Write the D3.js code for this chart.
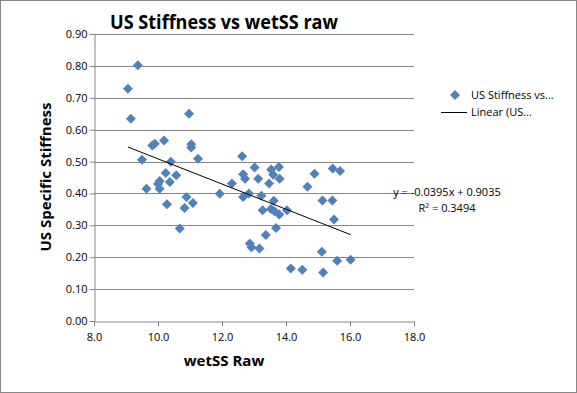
<!DOCTYPE html>
<html>
<head>
<meta charset="utf-8">
<script src="https://cdn.jsdelivr.net/npm/d3@7"></script>
<style>
  body { margin: 0; background: #fff; }
  text { font-family: "Open Sans", "Liberation Sans", sans-serif; }
</style>
</head>
<body>
<svg id="chart"></svg>
<script>
var width = 577,
  height = 393;

// readings from the picture: wetSS raw (x) and US specific stiffness (y)
var wetSS = [9.06, 9.37, 9.15, 10.97, 9.82, 9.90, 10.19, 11.04, 11.04, 9.50,
  10.40, 11.25, 10.24, 10.57, 10.05, 10.00, 10.37, 9.64, 10.05, 10.89,
  11.09, 10.83, 10.28, 10.68, 11.93, 12.31, 12.63, 13.02, 12.66, 12.72,
  13.13, 13.54, 13.78, 13.60, 13.80, 13.47, 12.66, 12.84, 13.23, 13.27,
  13.53, 13.62, 13.64, 13.79, 14.03, 13.69, 13.37, 12.87, 12.92, 13.17,
  14.89, 14.67, 15.46, 15.69, 15.14, 15.45, 15.50, 15.12, 15.60, 16.02,
  14.15, 14.51, 15.16];
var stiffness = [0.728, 0.802, 0.634, 0.650, 0.550, 0.556, 0.566, 0.554, 0.544, 0.506,
  0.499, 0.509, 0.464, 0.457, 0.439, 0.430, 0.436, 0.415, 0.415, 0.389,
  0.370, 0.354, 0.366, 0.290, 0.399, 0.431, 0.517, 0.481, 0.460, 0.446,
  0.446, 0.475, 0.483, 0.459, 0.446, 0.431, 0.389, 0.400, 0.393, 0.347,
  0.351, 0.377, 0.344, 0.334, 0.347, 0.292, 0.270, 0.243, 0.231, 0.227,
  0.462, 0.421, 0.478, 0.470, 0.378, 0.378, 0.318, 0.217, 0.189, 0.192,
  0.165, 0.161, 0.152];

// linear trend as printed on the chart
var slope = -0.0395, intercept = 0.9035, rSquared = 0.3494;

var xTicks = [8, 10, 12, 14, 16, 18];
var yTicks = [0, 0.1, 0.2, 0.3, 0.4, 0.5, 0.6, 0.7, 0.8, 0.9];

var legendLabels = ["US Stiffness vs...", "Linear (US..."];

var blue = "#4f81bd", gridColor = "#868686";

var margin = { left: 94, right: 163, top: 34, bottom: 72 };

var svg = d3.select("#chart")
  .attr("width", width)
  .attr("height", height);

// outer chart border
svg.append("rect")
  .attr("x", 0.5).attr("y", 0.5)
  .attr("width", width - 1).attr("height", height - 1)
  .attr("fill", "#fff")
  .attr("stroke", gridColor);

var x = d3.scaleLinear()
  .domain([8, 18])
  .range([margin.left, width - margin.right]);

var y = d3.scaleLinear()
  .domain([0, 0.9])
  .range([height - margin.bottom, margin.top]);

// horizontal gridlines
svg.append("g")
  .selectAll("line")
  .data(yTicks.slice(1))
  .enter().append("line")
  .attr("x1", x(8)).attr("x2", x(18))
  .attr("y1", d => Math.round(y(d)) + 0.5)
  .attr("y2", d => Math.round(y(d)) + 0.5)
  .attr("stroke", gridColor);

var xAxis = svg.append("g")
  .attr("transform", "translate(0," + (Math.round(y(0)) + 0.5) + ")")
  .call(d3.axisBottom(x).tickValues(xTicks).tickSize(5).tickSizeOuter(0)
    .tickFormat(d3.format(".1f")));

var yAxis = svg.append("g")
  .attr("transform", "translate(" + (Math.round(x(8)) + 0.5) + ",0)")
  .call(d3.axisLeft(y).tickValues(yTicks).tickSize(5).tickSizeOuter(0)
    .tickFormat(d3.format(".2f")));

[xAxis, yAxis].forEach(g => {
  g.selectAll("path, line").attr("stroke", gridColor);
  g.selectAll("text")
    .attr("fill", "#000")
    .style("font-family", "'Open Sans', 'Liberation Sans', sans-serif")
    .style("font-size", "11px");
});
xAxis.selectAll("text").attr("dy", "1.05em");
yAxis.selectAll("text").attr("x", -7);

// points
var diamond = d3.symbol().type(d3.symbolSquare).size(50);
svg.append("g")
  .selectAll("path")
  .data(d3.zip(wetSS, stiffness))
  .enter().append("path")
  .attr("d", diamond)
  .attr("transform", d => "translate(" + x(d[0]) + "," + y(d[1]) + ") rotate(45)")
  .attr("fill", blue);

// trendline across the data's x range
var xExtent = d3.extent(wetSS);
svg.append("line")
  .attr("x1", x(xExtent[0])).attr("y1", y(slope * xExtent[0] + intercept))
  .attr("x2", x(xExtent[1])).attr("y2", y(slope * xExtent[1] + intercept))
  .attr("stroke", "#000")
  .attr("stroke-width", 1);

// equation label
svg.append("text")
  .attr("x", 447).attr("y", 196)
  .attr("text-anchor", "middle")
  .style("font-size", "11px")
  .text("y = " + slope + "x + " + intercept);
svg.append("text")
  .attr("x", 447).attr("y", 212)
  .attr("text-anchor", "middle")
  .style("font-size", "11px")
  .text("R² = " + rSquared);

// titles
svg.append("text")
  .attr("x", 224).attr("y", 29)
  .attr("text-anchor", "middle")
  .attr("textLength", 228)
  .attr("lengthAdjust", "spacingAndGlyphs")
  .style("font-size", "20px")
  .style("font-weight", "bold")
  .text("US Stiffness vs wetSS raw");

svg.append("text")
  .attr("x", 224).attr("y", 366)
  .attr("text-anchor", "middle")
  .style("font-size", "15px")
  .style("font-weight", "bold")
  .text("wetSS Raw");

svg.append("text")
  .attr("transform", "translate(51,177) rotate(-90)")
  .attr("text-anchor", "middle")
  .style("font-size", "15px")
  .style("font-weight", "bold")
  .text("US Specific Stiffness");

// legend
var legend = svg.append("g");
legend.append("path")
  .attr("d", diamond)
  .attr("transform", "translate(455,95) rotate(45)")
  .attr("fill", blue);
legend.append("line")
  .attr("x1", 441).attr("x2", 467)
  .attr("y1", 112.5).attr("y2", 112.5)
  .attr("stroke", "#000");
legend.selectAll("text.lbl")
  .data(legendLabels)
  .enter().append("text")
  .attr("class", "lbl")
  .attr("x", 471)
  .attr("y", (d, i) => 99 + i * 17)
  .style("font-size", "11px")
  .text(d => d);
</script>
</body>
</html>
